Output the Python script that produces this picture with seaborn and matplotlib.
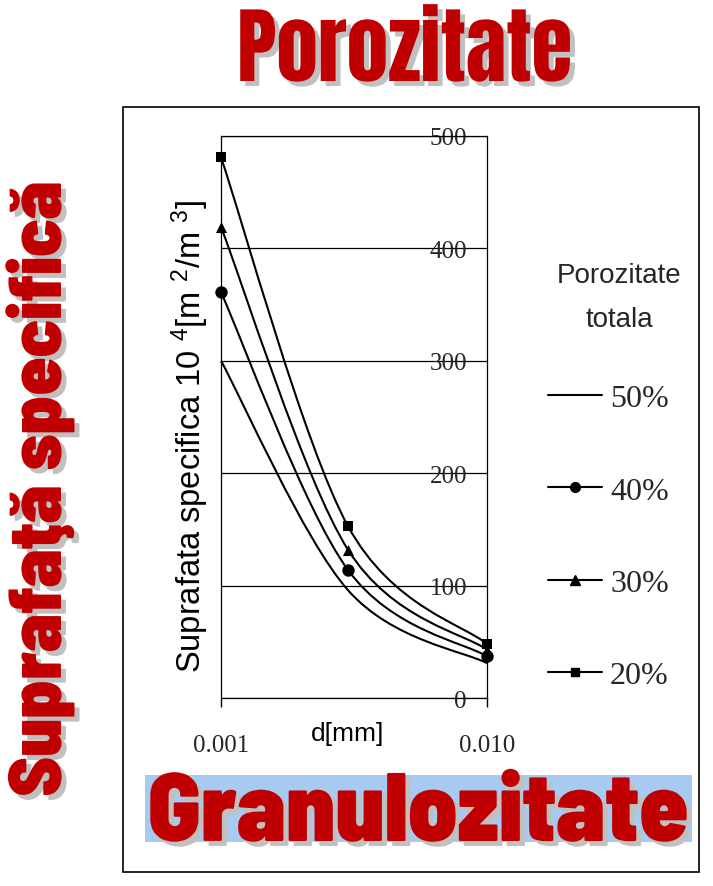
import numpy as np
import pandas as pd
import matplotlib
matplotlib.use('Agg')
import matplotlib.pyplot as plt
import seaborn as sns
from matplotlib.path import Path
from matplotlib.patches import PathPatch, Rectangle
from matplotlib.lines import Line2D
from matplotlib.ticker import NullLocator
from matplotlib import patheffects as pe

# ---------------- data ----------------
d_mm = [0.001, 0.003, 0.010]
series_labels = ['50%', '40%', '30%', '20%']
s_50 = [300, 96, 31]
s_40 = [361, 114, 37]
s_30 = [419, 132, 43]
s_20 = [481, 153, 48]
y_ticks = [0, 100, 200, 300, 400, 500]
x_ticks = [0.001, 0.010]
x_tick_labels = ['0.001', '0.010']

title_text = 'Porozitate'
left_text = 'Suprafaţă specifică'
bottom_text = 'Granulozitate'
legend_title_1 = 'Porozitate'
legend_title_2 = 'totala'
x_label = 'd[mm]'
y_label = r'Suprafata specifica 10 $^{4}$[m $^{2}$/m $^{3}$]'

sns.set_theme(style='white')
plt.rcParams['mathtext.fontset'] = 'custom'
plt.rcParams['mathtext.rm'] = 'Liberation Sans'
plt.rcParams['mathtext.it'] = 'Liberation Sans'

W, H = 713, 887
fig = plt.figure(figsize=(W / 100, H / 100), dpi=100)
fig.patch.set_facecolor('white')


def fx(px):
    return px / W


def fy(py):
    return 1 - py / H


def pt(px):
    return px * 72 / 100


serif = 'Liberation Serif'
sans = 'Liberation Sans'
font_title = ['Anton', 'Francois One', 'Liberation Sans']
font_wide = ['Barlow Semi Condensed', 'Francois One', 'Liberation Sans']

# ---------------- main axes ----------------
ax = fig.add_axes([fx(221), fy(699), (487 - 221) / W, (699 - 137) / H])
ax.set_facecolor('white')
ax.set_xscale('log')
ax.set_xlim(d_mm[0], d_mm[-1])
ax.set_ylim(y_ticks[0], y_ticks[-1])

series = [s_50, s_40, s_30, s_20]
markers = [None, 'o', '^', 's']
msizes = [0, 80, 64, 44]


def smooth_path(xs, ys):
    P = np.column_stack([np.log10(xs), np.asarray(ys, float)])
    n = len(P)
    verts = [P[0]]
    codes = [Path.MOVETO]
    for i in range(n - 1):
        p0 = P[max(i - 1, 0)]
        p1 = P[i]
        p2 = P[i + 1]
        p3 = P[min(i + 2, n - 1)]
        c1 = p1 + (p2 - p0) / 6.0
        c2 = p2 - (p3 - p1) / 6.0
        verts += [c1, c2, p2]
        codes += [Path.CURVE4] * 3
    verts = np.array(verts)
    verts[:, 0] = 10 ** verts[:, 0]
    return Path(verts, codes)


for vals in series:
    patch = PathPatch(smooth_path(d_mm, vals), facecolor='none', edgecolor='black',
                      lw=1.5, transform=ax.transData, clip_on=False, zorder=3)
    ax.add_patch(patch)

for vals, lab, m, s in zip(series, series_labels, markers, msizes):
    if m is None:
        continue
    df = pd.DataFrame({'d': d_mm, 'v': vals})
    sns.scatterplot(data=df, x='d', y='v', marker=m, s=s, color='black',
                    edgecolor='black', linewidth=0, ax=ax, clip_on=False, zorder=4,
                    legend=False)

ax.set_xticks(x_ticks)
ax.set_xticklabels(x_tick_labels)
ax.xaxis.set_minor_locator(NullLocator())
ax.tick_params(axis='x', which='major', bottom=True, direction='out', length=pt(9),
               width=1.0, pad=pt(27), labelsize=18, color='black')
ax.set_yticks(y_ticks)
ax.yaxis.tick_right()
ax.tick_params(axis='y', length=0, pad=-pt(20), labelsize=18)
for lab in ax.get_yticklabels():
    lab.set_ha('right')
    lab.set_family(serif)
for lab in ax.get_xticklabels():
    lab.set_family(serif)
ax.grid(axis='y', color='black', lw=0.9)
ax.grid(axis='x', visible=False)
ax.set_axisbelow(True)
for sp in ax.spines.values():
    sp.set_color('black')
    sp.set_linewidth(0.9)
    sp.set_visible(True)

ax.set_xlabel(x_label, fontsize=19, family=sans, color='black')
ax.xaxis.set_label_coords((348 - 221) / 266, (699 - 722) / 562)
ax.xaxis.label.set_va('top')
ax.set_ylabel(y_label, fontsize=23.5, family=sans, color='black')
ax.yaxis.set_label_position('left')
ax.yaxis.set_label_coords((211 - 221) / 266, (699 - 437) / 562)

# ---------------- legend ----------------
fig.text(fx(619), fy(283), legend_title_1, ha='center', va='baseline', fontsize=20, family=sans)
fig.text(fx(619), fy(327), legend_title_2, ha='center', va='baseline', fontsize=20, family=sans)
handles = [Line2D([], [], color='black', lw=1.5, marker=m if m else None, markersize=ms)
           for m, ms in zip(markers, [0, 7, 6.5, 5.5])]
fig.legend(handles, series_labels, loc='upper left', bbox_to_anchor=(fx(548), fy(385)),
           frameon=False, prop={'family': serif, 'size': 23}, handlelength=1.69,
           handletextpad=0.25, labelspacing=1.97, borderpad=0, borderaxespad=0)

# ---------------- frame ----------------
fig.patches.append(Rectangle((fx(123), fy(873)), (699 - 123) / W, (873 - 108) / H,
                             transform=fig.transFigure, facecolor='none', edgecolor='black',
                             lw=1.2, zorder=0))
fig.patches.append(Rectangle((fx(145), fy(843)), (692 - 145) / W, (843 - 776) / H,
                             transform=fig.transFigure, facecolor='#A6CAF0', edgecolor='none',
                             zorder=0.5))

# ---------------- decorative titles ----------------
red = '#C00000'
shadow = [pe.SimplePatchShadow(offset=(3.6, -3.6), shadow_rgbFace='#C0C0C0', alpha=1.0), pe.Normal()]
fig.text(fx(405), fy(82), title_text, ha='center', va='baseline', fontsize=60,
         color=red, family=font_title, path_effects=shadow)
fig.text(fx(61), fy(490), left_text, ha='center', va='baseline', rotation=90,
         rotation_mode='anchor', fontsize=54, color=red, family=font_wide,
         fontweight=900, path_effects=shadow)
fig.text(fx(418), fy(842), bottom_text, ha='center', va='baseline', fontsize=70,
         color=red, family=font_wide, fontweight=900, path_effects=shadow)

fig.savefig('out.png', dpi=100)
